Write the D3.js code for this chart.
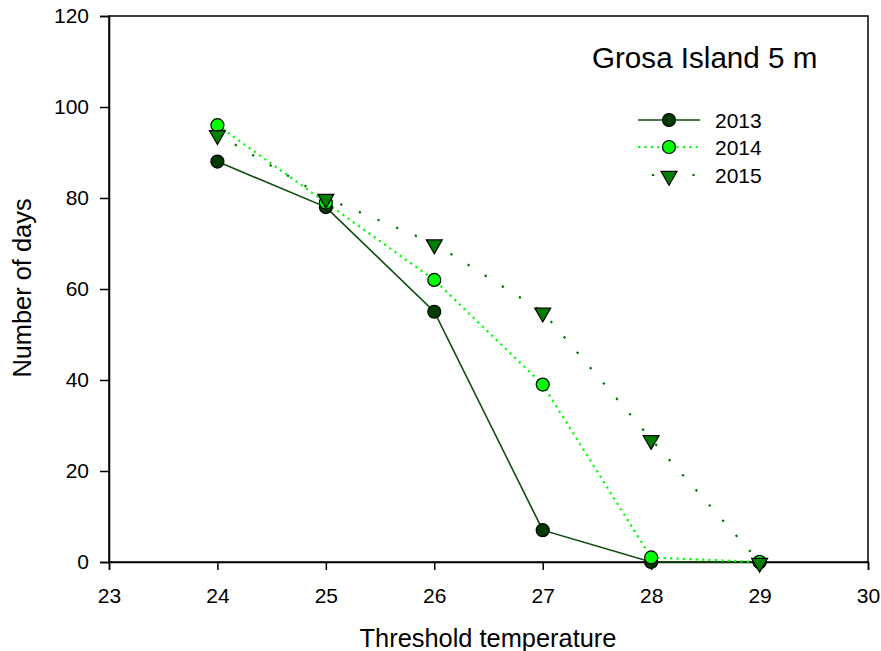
<!DOCTYPE html>
<html><head><meta charset="utf-8">
<script src="https://cdn.jsdelivr.net/npm/d3@7"></script>
<style>body{margin:0;background:#fff}svg{display:block}text{font-family:"Liberation Sans",Arial,sans-serif;fill:#000}</style>
</head><body>
<svg id="c" width="881" height="651"></svg>
<script>
const thresholds = [24, 25, 26, 27, 28, 29];
const days2013 = [88, 78, 55, 7, 0, 0];
const days2014 = [96, 79, 62, 39, 1, 0];
const days2015 = [94, 80, 70, 55, 27, 0];
const xTicks = [23, 24, 25, 26, 27, 28, 29, 30];
const yTicks = [0, 20, 40, 60, 80, 100, 120];
const seriesNames = ["2013", "2014", "2015"];
const titleText = "Grosa Island 5 m";

const series = [
  {name: seriesNames[0], values: days2013, line: "#0d4a0d", fill: "#003c00", dash: null, width: 1.6, shape: "circle"},
  {name: seriesNames[1], values: days2014, line: "#00ff00", fill: "#00ff00", dash: "2.2,4.2", width: 2.2, shape: "circle"},
  {name: seriesNames[2], values: days2015, line: "#006a00", fill: "#008000", dash: "2.2,18", width: 2.2, shape: "tri"}
];

const svg = d3.select("#c");
const L = 109, R = 868, T = 16, B = 562;
const x = d3.scaleLinear().domain([23, 30]).range([L, R]);
const y = d3.scaleLinear().domain([0, 120]).range([B, T]);

svg.append("rect").attr("x", L).attr("y", T).attr("width", R - L).attr("height", B - T)
  .attr("fill", "none").attr("stroke", "#000").attr("stroke-width", 1.5);

const xAxis = svg.append("g").attr("transform", `translate(0,${B})`)
  .call(d3.axisBottom(x).tickValues(xTicks).tickFormat(d3.format("d")).tickSize(8).tickPadding(18));
const yAxis = svg.append("g").attr("transform", `translate(${L},0)`)
  .call(d3.axisLeft(y).tickValues(yTicks).tickFormat(d3.format("d")).tickSize(9).tickPadding(11));
[xAxis, yAxis].forEach(g => {
  g.select(".domain").attr("stroke-width", 1.5);
  g.selectAll(".tick line").attr("stroke-width", 1.5);
  g.selectAll(".tick text").style("font-size", "21px").style("font-family", '"Liberation Sans",Arial,sans-serif');
});

svg.append("text").attr("x", 488).attr("y", 647).attr("text-anchor", "middle")
  .style("font-size", "25.4px").text("Threshold temperature");
svg.append("text").attr("transform", `translate(31,288) rotate(-90)`).attr("text-anchor", "middle")
  .style("font-size", "25.4px").text("Number of days");
svg.append("text").attr("x", 592).attr("y", 68).style("font-size", "29.6px").text(titleText);

const line = d3.line().x((d, i) => x(thresholds[i])).y(d => y(d));
const tri = d3.symbol().type(d3.symbolTriangle).size(110);

function marker(g, s, cx, cy) {
  if (s.shape === "circle") {
    g.append("circle").attr("cx", cx).attr("cy", cy).attr("r", 6.5)
      .attr("fill", s.fill).attr("stroke", "#000").attr("stroke-width", 1.2);
  } else {
    g.append("path").attr("d", tri).attr("transform", `translate(${cx},${cy + 1}) rotate(180)`)
      .attr("fill", s.fill).attr("stroke", "#000").attr("stroke-width", 1.2);
  }
}

series.forEach(s => {
  svg.append("path").attr("d", line(s.values)).attr("fill", "none")
    .attr("stroke", s.line).attr("stroke-width", s.width).attr("stroke-dasharray", s.dash);
});
series.forEach(s => {
  const g = svg.append("g");
  s.values.forEach((v, i) => marker(g, s, x(thresholds[i]), y(v)));
});

const legY = [120, 147, 175];
series.forEach((s, i) => {
  svg.append("line").attr("x1", 638).attr("x2", 700).attr("y1", legY[i]).attr("y2", legY[i])
    .attr("stroke", s.line).attr("stroke-width", s.width).attr("stroke-dasharray", s.dash)
    .attr("stroke-dashoffset", i === 2 ? -14 : 0);
  const g = svg.append("g");
  marker(g, s, 669, legY[i]);
  svg.append("text").attr("x", 715).attr("y", legY[i] + 7.5).style("font-size", "21px").text(s.name);
});
</script>
</body></html>
